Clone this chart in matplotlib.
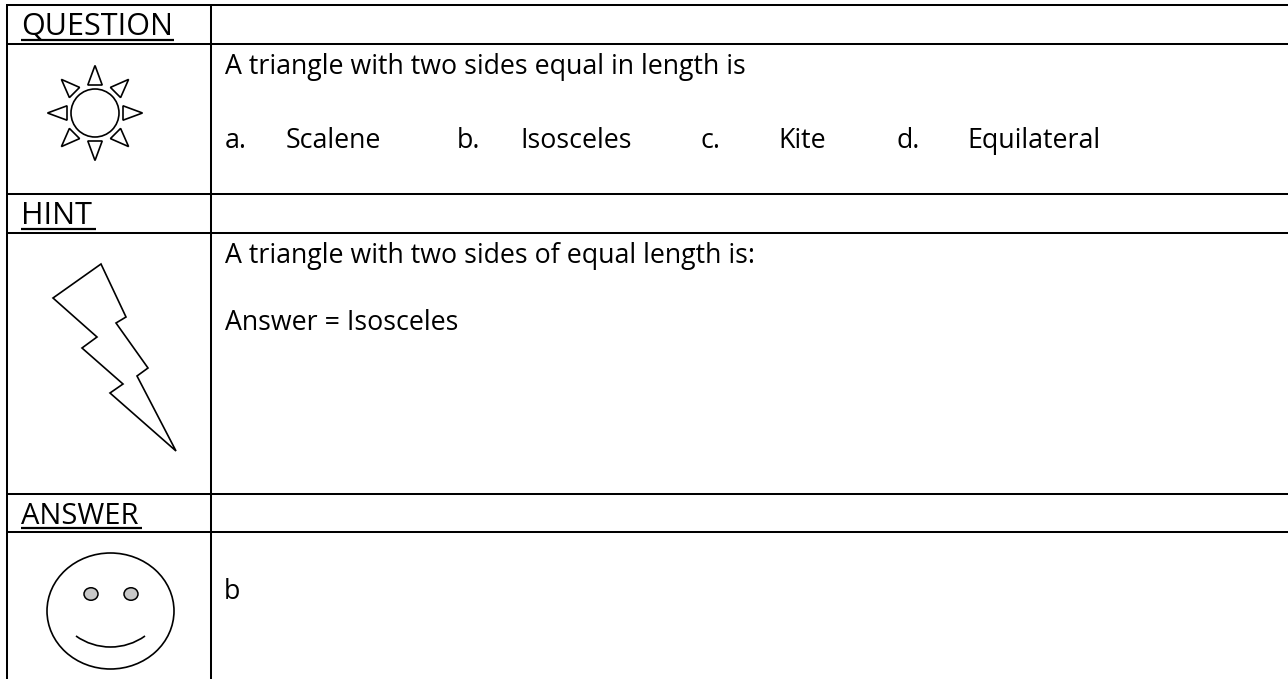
"""
Question / hint / answer worksheet table
"""

import matplotlib
matplotlib.use('Agg')
import numpy as np
import matplotlib.pyplot as plt
from matplotlib.patches import Circle, Ellipse, Polygon, Arc

W, H = 1288, 679

# table lines (pixels)
left_x, mid_x = 7, 211
row_y = [5, 43.7, 193.7, 233, 494, 531.7]

headers = ['QUESTION', 'HINT', 'ANSWER']
header_y = [35, 224, 524]
header_size = [22, 22, 21]
header_under = [40, 228.5, 528]
header_end = [174, 96, 142]

question = 'A triangle with two sides equal in length is'
choice_letters = ['a.', 'b.', 'c.', 'd.']
choice_words = ['Scalene', 'Isosceles', 'Kite', 'Equilateral']
letter_x = [225, 457, 701, 897]
word_x = [286, 520, 778, 967]
hint_lines = ['A triangle with two sides of equal length is:', 'Answer = Isosceles']
answer = 'b'

bolt_x = [101, 53, 97, 82, 123, 110, 176, 137, 148, 116, 126]
bolt_y = [264, 298, 337, 348, 384, 393, 451, 376, 368, 323, 317]

plt.rcParams['font.family'] = ['Open Sans', 'DejaVu Sans']
body = 19.3

fig = plt.figure(figsize=(W / 100, H / 100), dpi=100)
ax = fig.add_axes([0, 0, 1, 1])
ax.set_xlim(0, W)
ax.set_ylim(H, 0)
ax.axis('off')

# grid
for y in row_y:
    ax.plot([left_x - 1, W], [y, y], color='black', lw=1.45, solid_capstyle='butt')
for x in [left_x, mid_x]:
    ax.plot([x, x], [row_y[0], H], color='black', lw=1.45, solid_capstyle='butt')

# headers
for name, y, size, uy, xe in zip(headers, header_y, header_size, header_under, header_end):
    ax.text(21, y, name, fontsize=size, va='baseline', ha='left')
    ax.plot([21, xe], [uy, uy], color='black', lw=1.6, solid_capstyle='butt')

# text
ax.text(225, 74, question, fontsize=body, va='baseline')
for s, x in zip(choice_letters, letter_x):
    ax.text(x, 148, s, fontsize=body, va='baseline')
for s, x in zip(choice_words, word_x):
    ax.text(x, 148, s, fontsize=body, va='baseline')
ax.text(225, 263, hint_lines[0], fontsize=body, va='baseline')
ax.text(225, 330, hint_lines[1], fontsize=body, va='baseline')
ax.text(224, 599, answer, fontsize=body, va='baseline')

# sun
cx, cy = 95, 113
ax.add_patch(Circle((cx, cy), 24, fill=False, ec='black', lw=1.2))
for a in np.arange(0, 360, 45):
    t = np.radians(a)
    d = np.array([np.cos(t), np.sin(t)])
    n = np.array([-d[1], d[0]])
    c = np.array([cx, cy])
    tip = c + d * 47.5
    base = c + d * (28 if a % 90 == 0 else 29)
    ax.add_patch(Polygon([tip, base + n * 7.2, base - n * 7.2], closed=True, fill=False, ec='black', lw=1.2))

# lightning
ax.add_patch(Polygon(list(zip(bolt_x, bolt_y)), closed=True, fill=False, ec='black', lw=1.2))

# face
ax.add_patch(Ellipse((110.5, 611), 127, 116, fill=False, ec='black', lw=1.2))
for ex in [91, 131]:
    ax.add_patch(Ellipse((ex, 594), 14, 12.5, fc='#c8c8c8', ec='black', lw=1.1))
ax.add_patch(Arc((110.5, 587.4), 119.2, 119.2, theta1=54.6, theta2=125.4, ec='black', lw=1.2))

fig.savefig('out.png', dpi=100)
